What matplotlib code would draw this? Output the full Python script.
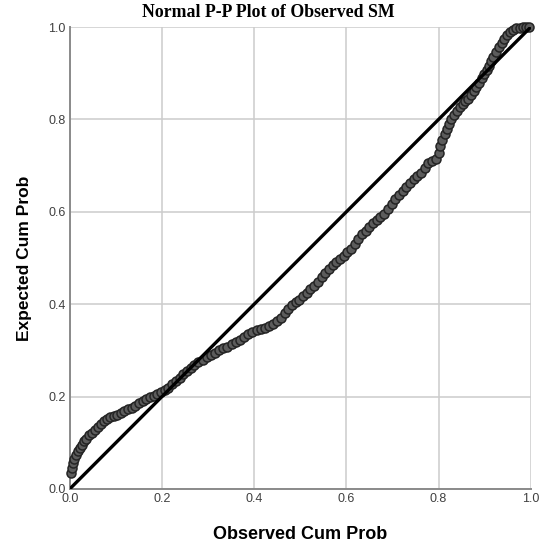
import matplotlib
matplotlib.use("Agg")
import matplotlib.pyplot as plt

# observed cumulative probability vs expected cumulative probability
observed = [
    0.003, 0.005, 0.007, 0.010, 0.013, 0.017, 0.021, 0.026, 0.031, 0.036, 0.042, 0.048,
    0.054, 0.060, 0.067, 0.074, 0.081, 0.088, 0.095, 0.102, 0.110, 0.118, 0.126, 0.134,
    0.142, 0.150, 0.158, 0.166, 0.174, 0.182, 0.190, 0.198, 0.206, 0.214,
    0.222, 0.230, 0.238, 0.246, 0.254, 0.262, 0.270, 0.279, 0.288, 0.297, 0.306, 0.315,
    0.324, 0.333, 0.342, 0.351, 0.360, 0.369, 0.378, 0.387, 0.396, 0.405, 0.414, 0.423,
    0.432, 0.441, 0.450, 0.458, 0.466, 0.474, 0.482, 0.490, 0.498, 0.506, 0.514, 0.522,
    0.530, 0.538,
    0.546, 0.554, 0.562, 0.570, 0.578, 0.586, 0.594, 0.602, 0.610, 0.618, 0.626, 0.634,
    0.642, 0.650, 0.658, 0.666, 0.674, 0.682, 0.690, 0.698, 0.706, 0.714, 0.722, 0.730,
    0.738, 0.746, 0.754, 0.762, 0.770, 0.778, 0.786, 0.794,
    0.800, 0.804, 0.808, 0.813, 0.818, 0.823, 0.828, 0.834, 0.840, 0.846, 0.852, 0.858,
    0.864, 0.870, 0.876, 0.882, 0.888, 0.894, 0.899, 0.904, 0.909, 0.914, 0.919, 0.925,
    0.931, 0.937, 0.943, 0.949, 0.955, 0.962, 0.969, 0.976, 0.983, 0.990, 0.996,
]
expected = [
    0.035, 0.045, 0.055, 0.065, 0.073, 0.081, 0.089, 0.096, 0.103, 0.109, 0.116, 0.122,
    0.128, 0.134, 0.140, 0.146, 0.151, 0.155, 0.158, 0.161, 0.164, 0.168, 0.172, 0.176,
    0.180, 0.185, 0.190, 0.194, 0.198, 0.201, 0.205, 0.209, 0.214, 0.219,
    0.226, 0.233, 0.241, 0.249, 0.256, 0.262, 0.268, 0.274, 0.280, 0.285, 0.290, 0.295,
    0.300, 0.304, 0.308, 0.313, 0.318, 0.323, 0.329, 0.335, 0.340, 0.343, 0.346, 0.349,
    0.353, 0.358, 0.364, 0.371, 0.380, 0.390, 0.399, 0.405, 0.410, 0.417, 0.424, 0.432,
    0.440, 0.448,
    0.458, 0.468, 0.477, 0.484, 0.491, 0.498, 0.505, 0.512, 0.520, 0.530, 0.541, 0.551,
    0.559, 0.567, 0.575, 0.582, 0.588, 0.596, 0.606, 0.617, 0.627, 0.636, 0.645, 0.654,
    0.662, 0.670, 0.677, 0.685, 0.695, 0.705, 0.711, 0.715,
    0.728, 0.742, 0.755, 0.768, 0.779, 0.790, 0.800, 0.810, 0.818, 0.826, 0.833, 0.839,
    0.845, 0.852, 0.861, 0.870, 0.879, 0.889, 0.898, 0.907, 0.916, 0.926, 0.936, 0.946,
    0.956, 0.965, 0.974, 0.982, 0.989, 0.994, 0.997, 0.999, 1.000, 1.000, 1.000,
]
ticks = [0.0, 0.2, 0.4, 0.6, 0.8, 1.0]

fig = plt.figure(figsize=(5.5, 5.53), dpi=100)
ax = fig.add_axes([0.127, 0.116, 0.838, 0.835])

ax.scatter(observed, expected, s=42, facecolor="#5c5c5c", edgecolor="#242424",
           linewidth=1.1, zorder=3, clip_on=False)
ax.plot([0, 1], [0, 1], color="black", linewidth=2.4, zorder=4, solid_capstyle="butt")

ax.set_xlim(0, 1)
ax.set_ylim(0, 1)
ax.set_xticks(ticks)
ax.set_yticks(ticks)
ax.set_xticklabels([f"{t:.1f}" for t in ticks])
ax.set_yticklabels([f"{t:.1f}" for t in ticks])
ax.tick_params(length=0, labelsize=9, labelcolor="#404040", pad=3)
for lab in ax.get_xticklabels() + ax.get_yticklabels():
    lab.set_family("Liberation Sans")

ax.grid(True, color="#cccccc", linewidth=1.1, zorder=0)
ax.set_axisbelow(True)
ax.spines["top"].set_visible(False)
ax.spines["right"].set_visible(False)
for side in ("left", "bottom"):
    ax.spines[side].set_color("#8a8a8a")
    ax.spines[side].set_linewidth(1.4)

ax.set_xlabel("Observed Cum Prob", fontsize=13, fontweight="bold",
              family="Liberation Sans", labelpad=15)
ax.set_ylabel("Expected Cum Prob", fontsize=12.5, fontweight="bold",
              family="Liberation Sans", labelpad=12)
# SPSS centres the title on the whole chart, not on the plot area
fig.text(0.487, 0.977, "Normal P-P Plot of Observed SM", fontsize=12.8,
         fontweight="bold", family="Liberation Serif", ha="center", va="center")

fig.savefig("out.png", dpi=100)
